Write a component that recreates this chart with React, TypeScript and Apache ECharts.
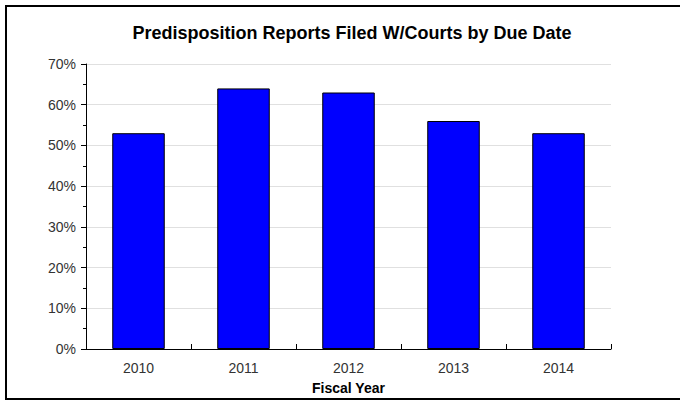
import React, { useEffect, useRef } from "react";
import * as echarts from "echarts";

const categories = ["2010", "2011", "2012", "2013", "2014"];
const values = [53, 64, 63, 56, 53];
const titleText = "Predisposition Reports Filed W/Courts by Due Date";
const xAxisName = "Fiscal Year";

export default function App() {
  const ref = useRef<HTMLDivElement>(null);
  useEffect(() => {
    const chart = echarts.init(ref.current!, null, { renderer: "svg" });
    chart.setOption({
      animation: false,
      backgroundColor: "#fff",
      title: {
        text: titleText,
        left: 347,
        top: 19,
        textAlign: "center",
        textStyle: { fontFamily: "Liberation Sans", fontSize: 18, fontWeight: "bold", color: "#000" },
      },
      graphic: [
        {
          type: "rect",
          shape: { x: 6, y: 6, width: 700, height: 393 },
          style: { fill: "none", stroke: "#000", lineWidth: 2 },
          silent: true,
          z: 100,
        },
      ],
      grid: { left: 86, right: 69, top: 64, bottom: 51, containLabel: false },
      xAxis: {
        type: "category",
        data: categories,
        name: xAxisName,
        nameLocation: "middle",
        nameGap: 32,
        nameTextStyle: { fontFamily: "Liberation Sans", fontSize: 14, fontWeight: "bold", color: "#000" },
        axisLine: { lineStyle: { color: "#000", width: 1 } },
        axisTick: { show: true, inside: true, length: 5, lineStyle: { color: "#000" } },
        axisLabel: { fontFamily: "Liberation Sans", fontSize: 14, color: "#333", margin: 12 },
      },
      yAxis: {
        type: "value",
        min: 0,
        max: 70,
        interval: 10,
        axisLine: { show: true, lineStyle: { color: "#000", width: 1 } },
        axisTick: { show: true, length: 5, lineStyle: { color: "#000" } },
        minorTick: { show: true, splitNumber: 2, length: 3, lineStyle: { color: "#000" } },
        splitLine: { show: true, lineStyle: { color: "#e0e0e0", width: 1 } },
        axisLabel: { fontFamily: "Liberation Sans", fontSize: 14, color: "#333", margin: 10, formatter: "{value}%" },
      },
      series: [
        {
          type: "bar",
          data: values,
          barWidth: "50%",
          itemStyle: { color: "#0000ff", borderColor: "#000", borderWidth: 1 },
        },
      ],
    });
    return () => chart.dispose();
  }, []);
  return <div ref={ref} style={{ position: "fixed", left: 0, top: 0, width: 680, height: 400 }} />;
}
